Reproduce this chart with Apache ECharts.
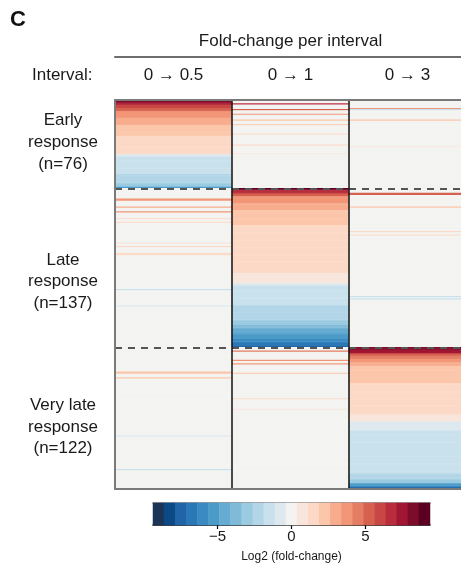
<!DOCTYPE html>
<html>
<head>
<meta charset="utf-8">
<script src="https://cdn.jsdelivr.net/npm/echarts@6/dist/echarts.min.js"></script>
<style>html,body{margin:0;padding:0;background:#fff}#c{width:461px;height:567px}</style>
</head>
<body>
<div id="c"></div>
<script>
// ---- Data ----
const intervals = ['0 → 0.5', '0 → 1', '0 → 3'];
const groupNames = ['Early\nresponse\n(n=76)', 'Late\nresponse\n(n=137)', 'Very late\nresponse\n(n=122)'];
const groupSizes = [76, 137, 122];

// Sorted blocks, as runs of [log2 fold-change, number of rows]
const early_05 = [[8.8,1],[8.2,1],[7.2,2],[6.3,3],[5.2,3],[3.6,6],[3.0,6],[2.2,9],[1.4,16],[-0.6,2],[-1.4,15],[-2.2,8],[-3.0,3],[-5.0,1]];
const late_1 = [[8.8,1],[8.0,1],[7.0,2],[6.0,1],[5.2,2],[4.0,3],[3.4,3],[2.8,6],[2.2,13],[1.4,41],[0.6,9],[-0.6,2],[-1.4,17],[-2.2,13],[-3.0,4],[-3.7,3],[-4.4,4],[-5.0,2],[-5.6,3],[-6.3,3],[-7.0,3],[-7.6,1]];
const verylate_3 = [[8.6,1],[7.9,1],[7.2,3],[6.0,1],[5.2,2],[4.2,2],[3.6,3],[3.0,3],[2.2,15],[1.4,27],[0.6,6],[-0.6,8],[-1.4,37],[-2.2,5],[-3.0,3],[-4.8,1],[-5.6,2],[-6.6,1],[-7.8,1]];

// Sparse rows (other rows are 0): [row within group, log2 fold-change]
const early_1 = [[3,7.0],[8,5.0],[12,3.6],[17,2.6],[21,2.4],[29,1.6],[38,1.0],[39,1.0],[46,0.6]];
const early_3 = [[7,3.5],[8,-1.5],[17,2.4],[40,0.8]];
const late_05 = [[9,3.6],[10,3.6],[16,3.2],[20,3.4],[26,1.5],[29,1.4],[47,1.0],[50,1.2],[56,1.6],[57,1.6],[87,-1.4],[101,-1.0]];
const late_3 = [[4,5.6],[5,5.6],[16,2.2],[37,1.2],[40,1.2],[93,-1.2],[95,-1.3]];
const verylate_05 = [[21,2.0],[22,2.0],[26,2.2],[76,-0.7],[105,-1.5]];
const verylate_1 = [[3,4.8],[11,3.6],[14,3.4],[22,2.6],[44,1.6],[53,1.1]];

// Colour scale bins (legend)
const cbarValues = [-9,-8.25,-7.5,-6.75,-6,-5.25,-4.5,-3.75,-3,-2.25,-1.5,-0.75,0,0.75,1.5,2.25,3,3.75,4.5,5.25,6,6.75,7.5,8.25,9];
const cbarTicks = [-5, 0, 5];

// ---- Style ----
const palette = ['#1c3557','#0c4a85','#2264a8','#2b78b6','#3b8bc2','#4b9bc8','#66acd2','#7fbbd9','#9acbe1','#b2d6e7','#c9e1ec','#dde9ef','#f3f3f1','#f8e6dc','#fcd9c6','#fbc6aa','#f7ad8d','#f29677','#e57d63','#d7614f','#c84744','#b82c3d','#a11733','#7d0b2a','#5c0021'];
const FONT = '"Liberation Sans", Arial, Helvetica, sans-serif';
const TXT = '#1a1a1a';

function expandRuns(runs) { const out = []; runs.forEach(([v, n]) => { for (let i = 0; i < n; i++) out.push(v); }); return out; }
function expandSparse(n, lines) { const out = new Array(n).fill(0); lines.forEach(([r, v]) => { out[r] = v; }); return out; }

const columns = [
  [...expandRuns(early_05), ...expandSparse(groupSizes[1], late_05), ...expandSparse(groupSizes[2], verylate_05)],
  [...expandSparse(groupSizes[0], early_1), ...expandRuns(late_1), ...expandSparse(groupSizes[2], verylate_1)],
  [...expandSparse(groupSizes[0], early_3), ...expandSparse(groupSizes[1], late_3), ...expandRuns(verylate_3)]
];
const nRows = groupSizes.reduce((a, b) => a + b, 0);
const rowIds = []; for (let i = 0; i < nRows; i++) rowIds.push('g' + i);
const heatData = [];
columns.forEach((col, x) => col.forEach((v, y) => heatData.push([x, y, v])));
const cbarData = cbarValues.map((v, i) => [i, 0, v]);

const bounds = [groupSizes[0], groupSizes[0] + groupSizes[1]];
const labelRows = {36: groupNames[0], 156: groupNames[1], 281: groupNames[2]};

const pieces = palette.map((c, k) => {
  const p = {color: c};
  if (k > 0) p.gte = -9.375 + 0.75 * k;
  if (k < palette.length - 1) p.lt = -9.375 + 0.75 * (k + 1);
  return p;
});

const chart = echarts.init(document.getElementById('c'), null, {renderer: 'canvas'});
chart.setOption({
  animation: false,
  textStyle: {fontFamily: FONT, color: TXT},
  title: [
    {text: 'C', left: 10, top: 9, padding: 0, textStyle: {fontSize: 22, fontWeight: 'bold', color: '#111', fontFamily: FONT}},
    {text: 'Interval:', left: 32, top: 67, padding: 0, textStyle: {fontSize: 17, fontWeight: 'normal', color: TXT, fontFamily: FONT}}
  ],
  grid: [
    {left: 115, top: 100, width: 351, height: 389, outerBoundsMode: 'none', containLabel: false},
    {left: 153, top: 503, width: 277, height: 22, outerBoundsMode: 'none', containLabel: false}
  ],
  xAxis: [
    {gridIndex: 0, type: 'category', data: intervals, position: 'bottom', z: 10,
     axisLine: {lineStyle: {color: '#7a7a7a', width: 2}}, axisTick: {show: false}, axisLabel: {show: false},
     splitLine: {show: true, interval: (i) => i > 0, lineStyle: {color: '#111', width: 1.5}}},
    {gridIndex: 0, type: 'category', data: intervals, position: 'top', z: 10,
     axisLine: {lineStyle: {color: '#7a7a7a', width: 2}}, axisTick: {show: false},
     axisLabel: {margin: 16, fontSize: 17, color: TXT, fontFamily: FONT}, splitLine: {show: false}},
    {gridIndex: 0, type: 'category', data: intervals, position: 'top', offset: 43,
     axisLine: {lineStyle: {color: '#6e6e6e', width: 2}}, axisTick: {show: false}, axisLabel: {show: false},
     name: 'Fold-change per interval', nameLocation: 'middle', nameGap: 7,
     nameTextStyle: {fontSize: 17, color: TXT, fontFamily: FONT}},
    {gridIndex: 1, type: 'category', data: cbarValues.map(String), position: 'top',
     axisLine: {lineStyle: {color: '#777', width: 1.5}}, axisTick: {show: false}, axisLabel: {show: false}},
    {gridIndex: 1, type: 'value', min: -9.375, max: 9.375, position: 'bottom',
     axisLine: {show: true, lineStyle: {color: '#000', width: 1.5}},
     axisTick: {show: true, customValues: cbarTicks, length: 4, lineStyle: {color: '#000', width: 1.2}},
     axisLabel: {customValues: cbarTicks, margin: 4, fontSize: 15, color: TXT, fontFamily: FONT,
                 formatter: (v) => v < 0 ? '\u2212' + Math.abs(v) : String(v)},
     splitLine: {show: false},
     name: 'Log2 (fold-change)', nameLocation: 'middle', nameGap: 26,
     nameTextStyle: {fontSize: 12, color: TXT, fontFamily: FONT}}
  ],
  yAxis: [
    {gridIndex: 0, type: 'category', data: rowIds, inverse: true, z: 10,
     axisLine: {lineStyle: {color: '#7a7a7a', width: 2}}, axisTick: {show: false},
     axisLabel: {interval: (i) => labelRows[i] !== undefined, formatter: (v, i) => labelRows[i] || '',
                 align: 'center', margin: 52, fontSize: 17, lineHeight: 21.7, color: TXT, fontFamily: FONT},
     splitLine: {show: true, interval: (i) => bounds.indexOf(i) >= 0,
                 lineStyle: {color: '#555', type: [7, 6], width: 2}}},
    {gridIndex: 1, type: 'category', data: ['cb'], show: false}
  ],
  visualMap: {type: 'piecewise', show: false, dimension: 2, seriesIndex: [0, 1], pieces: pieces},
  series: [
    {type: 'heatmap', xAxisIndex: 0, yAxisIndex: 0, data: heatData, emphasis: {disabled: true}, progressive: 0},
    {type: 'heatmap', xAxisIndex: 3, yAxisIndex: 1, data: cbarData, emphasis: {disabled: true}}
  ]
});
</script>
</body>
</html>
